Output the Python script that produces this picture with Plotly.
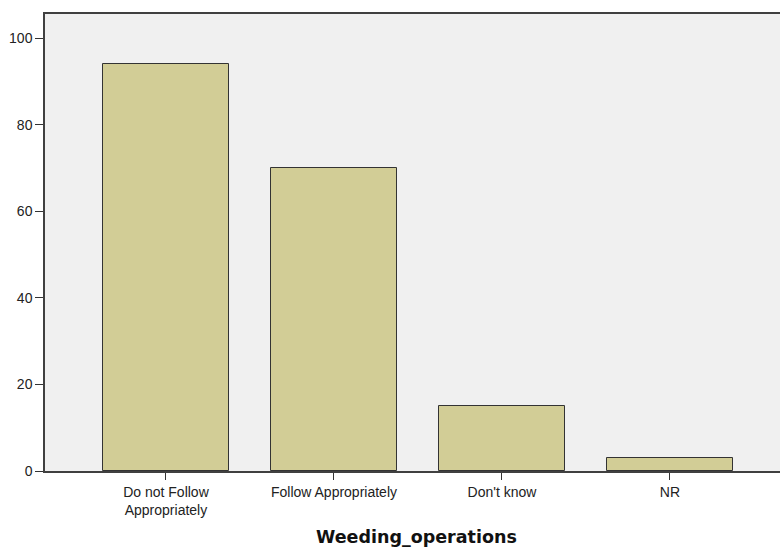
import plotly.graph_objects as go

categories = ["Do not Follow<br>Appropriately", "Follow Appropriately", "Don't know", "NR"]
counts = [94, 70, 15, 3]
y_ticks = [0, 20, 40, 60, 80, 100]

fig = go.Figure()
fig.add_trace(go.Bar(
    x=list(range(len(categories))),
    y=counts,
    width=0.75,
    marker=dict(color="#d2cd96", line=dict(color="#333333", width=1)),
    hoverinfo="skip",
))

fig.update_layout(
    width=780, height=550,
    margin=dict(l=45, r=0, t=14, b=79),
    paper_bgcolor="white",
    plot_bgcolor="#f0f0f0",
    showlegend=False,
    font=dict(family="Liberation Sans, Arial, sans-serif", size=14, color="#222222"),
    bargap=0,
)
fig.update_xaxes(
    range=[-0.72, 3.655],
    tickmode="array",
    tickvals=list(range(len(categories))),
    ticktext=categories,
    ticks="outside", ticklen=7, tickcolor="#333333",
    showline=True, linecolor="#404040", linewidth=1.5, mirror=True,
    showgrid=False, zeroline=False,
    tickfont=dict(size=14, color="#222222"),
)
fig.update_yaxes(
    range=[0, 105.6],
    tickmode="array",
    tickvals=y_ticks,
    ticks="outside", ticklen=8, tickcolor="#333333",
    showline=True, linecolor="#404040", linewidth=1.5, mirror=False,
    showgrid=False, zeroline=False,
    tickfont=dict(size=14, color="#222222"),
)
fig.add_annotation(
    text="<b>Weeding_operations</b>",
    xref="paper", yref="paper", x=0.506, y=-0.145,
    showarrow=False, xanchor="center", yanchor="middle",
    font=dict(family="DejaVu Sans, sans-serif", size=17.5, color="#111111"),
)
fig.write_html(
    "out.html",
    config={"displayModeBar": False},
    post_script="document.body.style.margin='0';document.body.style.overflow='hidden';",
)
